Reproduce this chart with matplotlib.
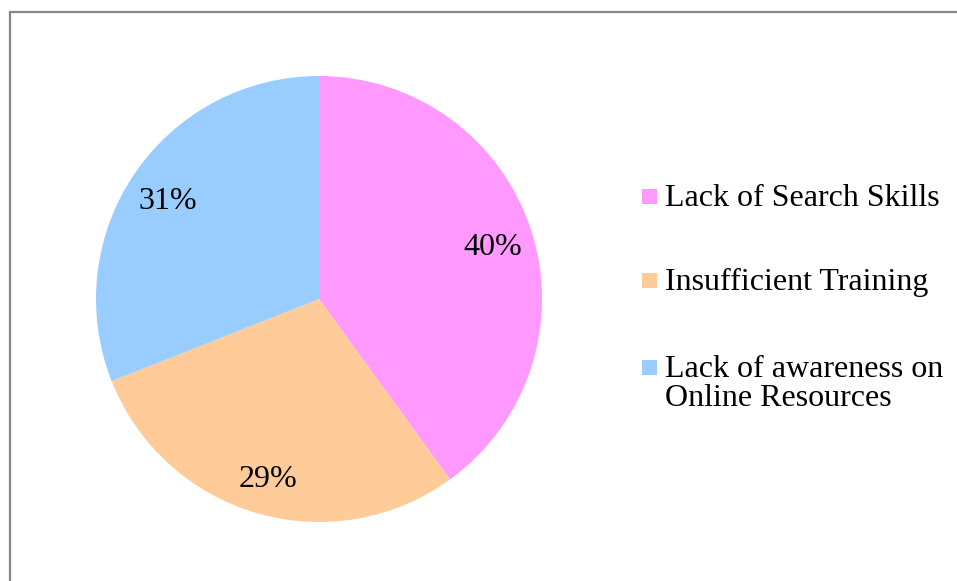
import matplotlib.pyplot as plt
from matplotlib.patches import Rectangle
from matplotlib.transforms import offset_copy

# data
categories = ['Lack of Search Skills', 'Insufficient Training',
              'Lack of awareness on\nOnline Resources']
shares = [40, 29, 31]
colors = ['#FF99FF', '#FFCC99', '#99CCFF']

plt.rcParams['font.family'] = ['Liberation Serif', 'DejaVu Serif']

fig = plt.figure(figsize=(9.57, 5.81), dpi=100)
W, H = 957, 581

# outer frame (runs off the right and bottom edge like the original)
fig.add_artist(Rectangle((10 / W, -0.1), 1.2, 1 - 12 / H + 0.1,
                         transform=fig.transFigure, fill=False,
                         edgecolor='#868686', linewidth=1.6))

# pie
ax = fig.add_axes([96 / W, 59 / H, 446 / W, 446 / H])
wedges, texts, autotexts = ax.pie(shares, colors=colors, startangle=90,
                                  counterclock=False, autopct='%d%%',
                                  pctdistance=0.82,
                                  textprops={'fontsize': 23, 'color': 'black'})
ax.set_xlim(-1, 1)
ax.set_ylim(-1, 1)
ax.set_aspect('equal')

# nudge the percent labels down a touch, excel centres on the glyphs
for t in autotexts:
    t.set_transform(offset_copy(ax.transData, fig=fig, y=-5, units='dots'))

# legend drawn by hand so the square sits with the first line of text
row_y = [206, 290, 377]
line_gap = 29
for lab, col, y in zip(categories, colors, row_y):
    fig.add_artist(Rectangle((642 / W, 1 - (y - 2) / H), 15 / W, 15 / H,
                             transform=fig.transFigure, facecolor=col,
                             edgecolor='none'))
    for i, line in enumerate(lab.split('\n')):
        fig.text(665 / W, 1 - (y + i * line_gap) / H, line, fontsize=23,
                 va='baseline', ha='left')

fig.savefig('out.png', dpi=100)
